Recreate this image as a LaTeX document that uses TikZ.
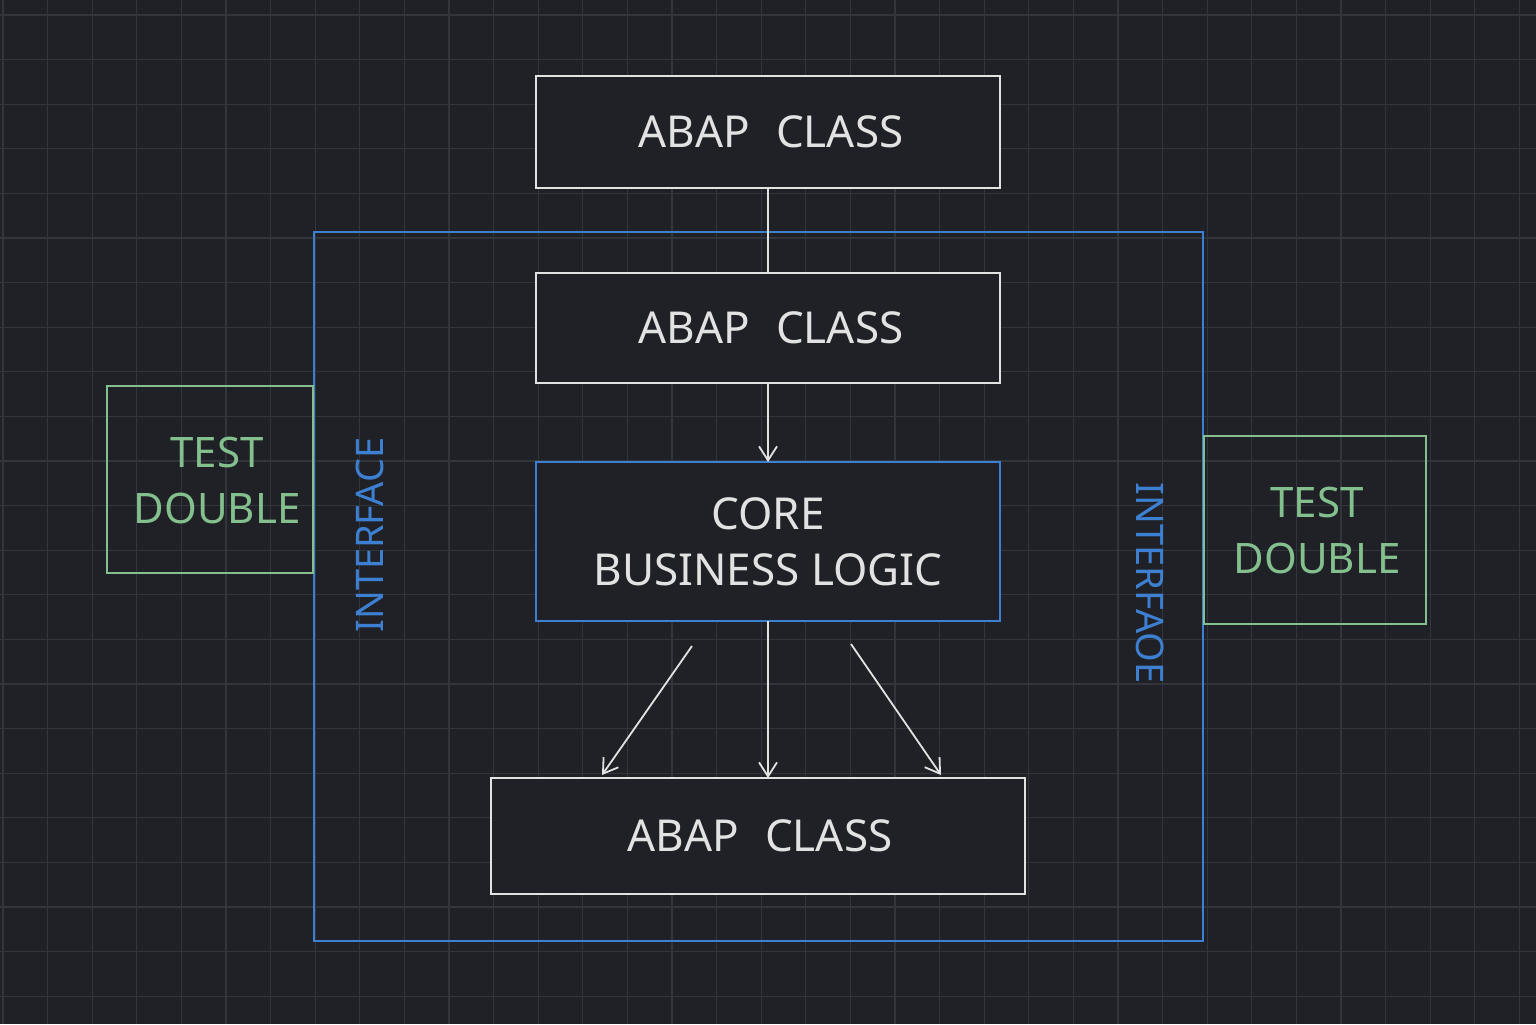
\documentclass[tikz,border=0pt]{standalone}
\usepackage{fontspec}
\setmainfont{Noto Sans}
\usetikzlibrary{arrows.meta}
\definecolor{bg}{HTML}{1F2126}
\definecolor{gridc}{HTML}{32353C}
\definecolor{wl}{HTML}{E2E2E2}
\definecolor{bl}{HTML}{3D80D2}
\definecolor{gr}{HTML}{84C08E}
\begin{document}
\begin{tikzpicture}[x=0.5pt,y=-0.5pt,
  box/.style={draw=wl,line width=1.2pt,inner sep=0pt},
  lbl/.style={text=wl,font=\fontsize{22}{28}\selectfont,align=center},
  td/.style={text=gr,font=\fontsize{21}{28}\selectfont,align=center},
  itf/.style={text=bl,font=\fontsize{19}{22}\selectfont},
  arr/.style={draw=wl,line width=0.9pt,-{Straight Barb[length=7pt,width=9pt]}}]
\fill[bg] (0,0) rectangle (1536,1024);
\useasboundingbox (0,0) rectangle (1536,1024);
\foreach \i in {0,...,34} \draw[gridc,line width=0.6pt] (3+44.6*\i,0) -- (3+44.6*\i,1024);
\foreach \j in {0,...,23} \draw[gridc,line width=0.6pt] (0,15+44.6*\j) -- (1536,15+44.6*\j);
% interface frame
\draw[bl,line width=1.2pt] (314,232) rectangle (1203,941);
% boxes
\draw[box,fill=bg] (536,76) rectangle (1000,188);
\node[lbl] (a1) at (771,132) {ABAP\,\, CLASS};
\draw[box,fill=bg] (536,273) rectangle (1000,383);
\node[lbl] (a2) at (771,328) {ABAP\,\, CLASS};
\draw[draw=bl,line width=1.2pt,fill=bg] (536,462) rectangle (1000,621);
\node[lbl] (core) at (768,542) {CORE\\BUSINESS LOGIC};
\draw[box,fill=bg] (491,778) rectangle (1025,894);
\node[lbl] (a3) at (760,836) {ABAP\,\, CLASS};
\draw[gr,line width=1.2pt] (107,386) rectangle (313,573);
\node[td] (t1) at (217,480) {TEST\\DOUBLE};
\draw[gr,line width=1.2pt] (1204,436) rectangle (1426,624);
\node[td] (t2) at (1317,530) {TEST\\DOUBLE};
\node[itf,rotate=90] (i1) at (370,535) {INTERFACE};
\node[itf,rotate=-90] (i2) at (1150,583) {INTERFAOE};
% connectors
\coordinate (p1) at (768,188); \coordinate (p2) at (768,273);
\draw[wl,line width=0.9pt] (p1) -- (p2);
\coordinate (p3) at (768,383); \coordinate (p4) at (768,462);
\draw[arr] (p3) -- (p4);
\coordinate (s1) at (692,646); \coordinate (e1) at (602,775);
\coordinate (s2) at (768,621); \coordinate (e2) at (768,778);
\coordinate (s3) at (851,644); \coordinate (e3) at (941,775);
\draw[arr] (s1) -- (e1);
\draw[arr] (s2) -- (e2);
\draw[arr] (s3) -- (e3);
\end{tikzpicture}
\end{document}
